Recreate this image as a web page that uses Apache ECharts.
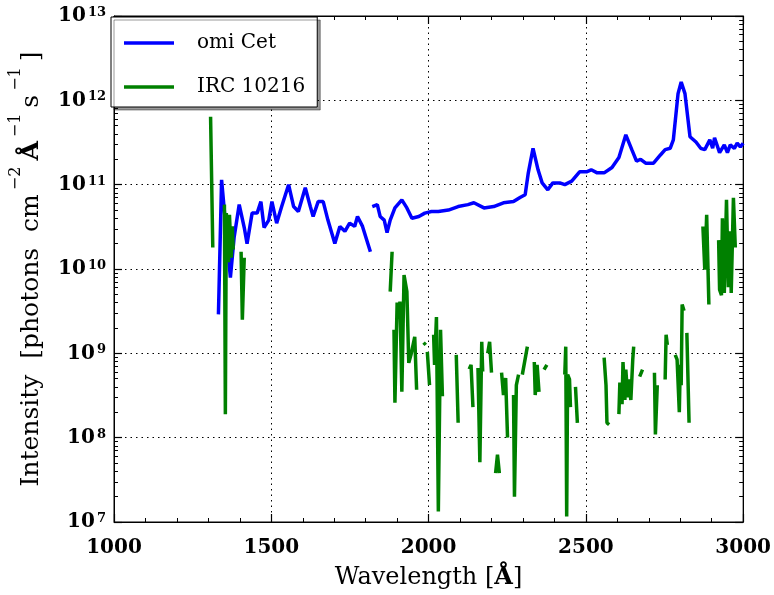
<!DOCTYPE html>
<html>
<head>
<meta charset="utf-8">
<script src="https://cdn.jsdelivr.net/npm/echarts@6/dist/echarts.min.js"></script>
<style>
  body { margin: 0; background: #fff; }
  #chart { width: 774px; height: 595px; }
</style>
</head>
<body>
<div id="chart"></div>
<script>
// omi Cet spectrum (null = gap in the data)
var omiWave = [1332,1342,1370,1382,1398,1414,1423,1439,1455,1467,1477,1492,1502,1517,1533,1555,1571,1586,1608,1624,1633,1649,1665,1680,1702,1718,1734,1749,1765,1774,1790,1815,1818,
  1821,1837,1846,1859,1868,1878,1893,1915,1931,1947,1969,1988,2009,2031,2063,2094,2125,2144,2176,2207,2238,2270,2292,2307,2317,2332,2348,2361,2379,2395,2417,2433,2455,2480,2502,2517,2536,2558,2583,2605,2627,2646,2661,2674,2690,2715,2737,2752,2768,2778,2793,2803,2815,2831,2850,2865,2878,2894,2903,2909,2925,2940,2950,2959,2972,2981,2991,3000];
var omiFlux = [2.9e9,1.14e11,7.9e9,2.4e10,5.8e10,3.1e10,2.0e10,4.6e10,4.6e10,6.3e10,3.1e10,3.8e10,6.3e10,3.5e10,5.5e10,1.0e11,5.5e10,4.8e10,9.2e10,5.5e10,4.2e10,6.3e10,6.3e10,3.8e10,2.0e10,3.2e10,2.8e10,3.5e10,3.2e10,4.2e10,3.2e10,1.6e10,null,
  5.5e10,5.8e10,4.2e10,3.8e10,2.7e10,3.8e10,5.3e10,6.6e10,5.3e10,4.0e10,4.2e10,4.6e10,4.8e10,4.8e10,5.0e10,5.5e10,5.8e10,6.1e10,5.3e10,5.5e10,6.1e10,6.3e10,7.1e10,7.6e10,1.38e11,2.7e11,1.5e11,1.05e11,8.7e10,1.05e11,1.05e11,1.0e11,1.1e11,1.42e11,1.42e11,1.5e11,1.38e11,1.38e11,1.6e11,2.1e11,3.9e11,2.6e11,1.9e11,2.0e11,1.8e11,1.8e11,2.25e11,2.6e11,2.7e11,3.4e11,1.2e12,1.65e12,1.2e12,3.7e11,3.2e11,2.7e11,2.6e11,3.4e11,2.7e11,3.6e11,2.4e11,2.96e11,2.4e11,2.96e11,2.7e11,3.1e11,2.8e11,3.1e11];

// IRC 10216 spectrum (null = gap in the data)
var ircWave = [1307,1314,1330,
  1351,1354,1357,1364,1367,1373,1376,1379,1390,
  1404,1408,1414,1600,
  1878,1884,1887,
  1890,1893,1900,1903,1909,1915,1922,1931,1937,1944,1950,1956,1962,1975,
  1984,1991,1993,
  1996,2003,2010,
  2016,2019,2025,2031,2038,2044,2060,
  2088,2094,2110,
  2129,2135,2141,2150,
  2157,2163,2169,2172,2180,
  2188,2194,2200,2206,
  2213,2219,2225,2228,
  2232,2238,2245,2251,2260,
  2270,2273,2279,2286,2292,
  2298,2314,2325,
  2336,2339,2345,2351,2360,
  2367,2376,2400,
  2433,2436,2439,2442,2448,2451,2460,
  2467,2473,2520,
  2558,2564,2567,2574,2590,
  2605,2608,2615,2618,2624,2627,2633,2636,2643,2649,2652,2660,
  2671,2680,2700,
  2718,2721,2727,2740,
  2752,2755,2759,2770,
  2784,2790,2797,2800,2803,2806,2812,2816,
  2821,2828,2850,
  2872,2878,2884,2891,2905,
  2922,2925,2931,2934,2940,2947,2953,2959,2962,2969,2975];
var ircFlux = [6.4e11,1.8e10,null,
  5.8e10,1.9e8,4.6e10,1.2e10,4.4e10,1.36e10,3.2e10,1.7e10,null,
  1.6e10,2.5e9,1.36e10,null,
  5.4e9,1.6e10,null,
  1.9e9,2.6e8,4.0e9,2.6e9,4.1e9,3.5e8,8.5e9,5.4e9,7.7e8,9.6e8,9.3e8,1.57e9,3.7e8,null,
  1.34e9,1.26e9,null,
  1.04e9,4.2e8,null,
  1.66e9,7.3e8,2.7e9,1.33e7,1.9e9,3.1e8,null,
  9.6e8,1.5e8,null,
  6.5e8,7.3e8,2.3e8,null,
  6.7e8,5.1e7,1.37e9,6.1e8,null,
  1.0e9,1.37e9,5.9e8,null,
  3.8e7,6.3e7,3.8e7,null,
  5.9e8,3.2e8,5.1e8,1.0e8,null,
  3.2e8,2.0e7,4.2e8,5.6e8,null,
  5.6e8,1.2e9,null,
  7.9e8,3.2e8,7.3e8,3.5e8,null,
  6.4e8,7.3e8,null,
  5.6e8,1.2e9,1.16e7,5.6e8,4.9e8,2.3e8,null,
  4.0e8,1.5e8,null,
  8.9e8,4.2e8,1.5e8,1.43e8,null,
  1.9e8,4.5e8,2.5e8,7.9e8,2.8e8,6.4e8,3.0e8,4.9e8,2.8e8,8.4e8,1.2e9,null,
  5.3e8,6.4e8,null,
  5.9e8,1.09e8,4.2e8,null,
  4.9e8,1.66e9,1.26e9,null,
  9.6e8,8.4e8,2.0e8,7.3e8,4.2e8,3.8e9,3.2e9,null,
  1.75e9,1.5e8,null,
  3.2e10,9.8e9,4.4e10,3.8e9,null,
  2.2e10,5.7e9,4.9e9,4.0e10,5.2e9,6.6e10,6.1e9,2.8e10,5.2e9,7.0e10,1.8e10];

var xMin = 1000, xMax = 3000, xStep = 500;
var yMin = 1e7, yMax = 1e13;

var serif = 'DejaVu Serif';

function pairs(wave, flux) {
  return wave.map(function (w, i) {
    return flux[i] == null ? [w, '-'] : [w, flux[i]];
  });
}

// minor ticks of the log axis: 2..9 x 10^n
var yMinor = [];
for (var e = 7; e < 13; e++) {
  for (var m = 2; m <= 9; m++) yMinor.push(m * Math.pow(10, e));
}

var chart = echarts.init(document.getElementById('chart'));

var baseX = {
  type: 'value', min: xMin, max: xMax, interval: xStep,
  axisLine: { show: true, lineStyle: { color: '#000', width: 1 } },
  axisTick: { show: true, inside: true, length: 8, lineStyle: { color: '#000', width: 1.2 } },
  minorTick: { show: true, splitNumber: 5, length: 4, lineStyle: { color: '#000', width: 1 } },
  splitLine: { show: false }
};

var option = {
  animation: false,
  backgroundColor: '#fff',
  grid: { left: 108, top: 16, width: 638, height: 506, show: true, borderColor: '#000', borderWidth: 1 },
  legend: {
    orient: 'vertical', left: 111, top: 17,
    itemWidth: 50, itemHeight: 3.5, itemGap: 24, icon: 'rect',
    padding: [16, 12, 10, 13],
    backgroundColor: '#fff', borderColor: '#000', borderWidth: 1,
    shadowColor: 'rgba(0,0,0,0.4)', shadowOffsetX: 3, shadowOffsetY: 3, shadowBlur: 0,
    textStyle: { fontFamily: serif, fontSize: 20, color: '#000', padding: [0, 0, 0, 18] },
    data: ['omi Cet', 'IRC 10216']
  },
  xAxis: [
    Object.assign({}, baseX, {
      position: 'bottom',
      name: '{n|Wavelength [}{a|Å}{n|]}', nameLocation: 'middle', nameGap: 44,
      nameTextStyle: { rich: {
        n: { fontFamily: serif, fontSize: 24, color: '#000' },
        a: { fontFamily: serif, fontSize: 24, fontWeight: 'bold', color: '#000' }
      } },
      axisLabel: {
        margin: 16, fontFamily: serif, fontWeight: 'bold', fontSize: 20, color: '#000', lineHeight: 20,
        formatter: function (v) { return String(v); }
      },
      splitLine: { show: true, lineStyle: { color: '#000', type: [1.5, 4], width: 1 } }
    }),
    Object.assign({}, baseX, { position: 'top', axisLabel: { show: false } })
  ],
  yAxis: [
    {
      type: 'log', min: yMin, max: yMax, logBase: 10, position: 'left',
      axisLine: { show: true, lineStyle: { color: '#000' } },
      axisTick: { show: true, inside: true, length: 8, lineStyle: { color: '#000', width: 1.2 } },
      axisLabel: {
        margin: 8,
        formatter: function (v) { return '{b|10}{e|' + Math.round(Math.log10(v)) + '}'; },
        rich: {
          b: { fontFamily: serif, fontWeight: 'bold', fontSize: 20, color: '#000', lineHeight: 20, verticalAlign: 'bottom' },
          e: { fontFamily: serif, fontWeight: 'bold', fontSize: 13, color: '#000', lineHeight: 13, verticalAlign: 'top', padding: [0, 0, 0, 2] }
        }
      },
      splitLine: { show: true, lineStyle: { color: '#000', type: [1.5, 4], width: 1 } },
      name: '{n|Intensity  [photons  cm}{s|−2}{a|Å}{s|−1}{n|s}{s|−1}{n|]}',
      nameLocation: 'middle', nameRotate: 90, nameGap: 70,
      nameTextStyle: { rich: {
        n: { fontFamily: serif, fontSize: 25, color: '#000', lineHeight: 36, verticalAlign: 'bottom' },
        a: { fontFamily: serif, fontSize: 25, fontWeight: 'bold', color: '#000', lineHeight: 36, verticalAlign: 'bottom' },
        s: { fontFamily: serif, fontSize: 16, color: '#000', verticalAlign: 'top', padding: [0, 6, 0, 4] }
      } }
    },
    {
      type: 'log', min: yMin, max: yMax, logBase: 10, position: 'left',
      axisLine: { show: false }, axisLabel: { show: false }, splitLine: { show: false },
      axisTick: { show: true, inside: true, length: 4, customValues: yMinor, lineStyle: { color: '#000' } }
    },
    {
      type: 'log', min: yMin, max: yMax, logBase: 10, position: 'right',
      axisLine: { show: true, lineStyle: { color: '#000' } }, axisLabel: { show: false }, splitLine: { show: false },
      axisTick: { show: true, inside: true, length: 8, lineStyle: { color: '#000', width: 1.2 } }
    },
    {
      type: 'log', min: yMin, max: yMax, logBase: 10, position: 'right',
      axisLine: { show: false }, axisLabel: { show: false }, splitLine: { show: false },
      axisTick: { show: true, inside: true, length: 4, customValues: yMinor, lineStyle: { color: '#000' } }
    }
  ],
  series: [
    {
      name: 'omi Cet', type: 'line', xAxisIndex: 0, yAxisIndex: 0,
      data: pairs(omiWave, omiFlux), showSymbol: false, symbol: 'none', connectNulls: false,
      color: '#0000ff', lineStyle: { color: '#0000ff', width: 3.5 }
    },
    {
      name: 'IRC 10216', type: 'line', xAxisIndex: 0, yAxisIndex: 0,
      data: pairs(ircWave, ircFlux), showSymbol: false, symbol: 'none', connectNulls: false,
      color: '#008000', lineStyle: { color: '#008000', width: 3.5 }
    }
  ]
};

chart.setOption(option);
</script>
</body>
</html>
